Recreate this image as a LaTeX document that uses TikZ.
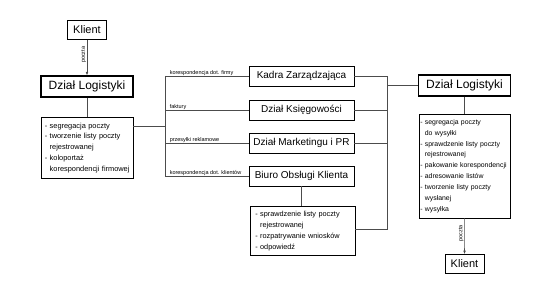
\documentclass[tikz,border=0pt]{standalone}
\usepackage{fontspec}
\setmainfont{Liberation Sans}
\usetikzlibrary{arrows.meta,positioning}

\begin{document}
\begin{tikzpicture}[x=1pt,y=-1pt,every node/.style={font=\fontsize{10}{12}\selectfont},
  dept/.style={draw,line width=.6pt,minimum width=105pt,minimum height=20pt,inner sep=0pt},
  dzial/.style={draw,line width=1.1pt,minimum width=92pt,minimum height=21pt,inner sep=0pt,font=\fontsize{12}{14}\selectfont},
  klient/.style={draw,line width=.6pt,minimum width=39pt,minimum height=19pt,inner sep=0pt,font=\fontsize{11}{13}\selectfont},
  lista/.style={draw,line width=.6pt,anchor=north west,align=left,font=\fontsize{7.4}{10.8}\selectfont},
  opis/.style={anchor=south west,inner sep=.5pt,font=\fontsize{5.5}{6}\selectfont},
  pion/.style={rotate=90,anchor=south,inner sep=.8pt,font=\fontsize{5.5}{6}\selectfont},
  link/.style={line width=.6pt,draw=black!70},
  strz/.style={link,-{Latex[length=3.5pt,width=2.6pt]}}]
\useasboundingbox (0,0) rectangle (550,294);
\node[klient] (klientA) at (87,30) {Klient};
\node[dzial] (logA) at (87,86.5) {Dział Logistyki};
\node[lista,inner xsep=3.5pt,inner ysep=5.5pt,text width=85pt] (listA) at (41,117)
  {- segregacja poczty\\- tworzenie listy poczty\\\hphantom{- }rejestrowanej\\- koloportaż\\\hphantom{- }korespondencji firmowej};
\node[dept] (kadra) at (301.5,76) {Kadra Zarządzająca};
\node[dept] (ksieg) at (301.5,110) {Dział Księgowości};
\node[dept] (market) at (301.5,143) {Dział Marketingu i PR};
\node[dept] (biuro) at (301.5,176) {Biuro Obsługi Klienta};
\node[lista,inner xsep=5pt,inner ysep=4.8pt,text width=95pt,font=\fontsize{7.3}{11}\selectfont] (listC) at (250,206)
  {- sprawdzenie listy poczty\\\hphantom{- }rejestrowanej\\- rozpatrywanie wniosków\\- odpowiedź};
\node[dzial] (logB) at (464.5,85.5) {Dział Logistyki};
\node[lista,inner xsep=1pt,inner ysep=5pt,text width=89pt,font=\fontsize{6.9}{10.9}\selectfont] (listB) at (419,114)
  {- segregacja poczty\\\hphantom{- }do wysyłki\\- sprawdzenie listy poczty\\\hphantom{- }rejestrowanej\\- pakowanie korespondencji\\- adresowanie listów\\- tworzenie listy poczty\\\hphantom{- }wysłanej\\- wysyłka};
\node[klient] (klientB) at (464.5,264) {Klient};
\coordinate (busL) at (165,76);
\coordinate (busR) at (387,76);
\coordinate (wyjA) at (133,126);
\coordinate (wyjC) at (355,229);
\draw[strz] (klientA) -- node[pion,pos=.42]{poczta} (logA);
\draw[link] (logA) -- (listA.north -| logA);
\draw[link] (wyjA) -- (wyjA -| busL);
\draw[link] (busL |- kadra) -- (busL |- biuro);
\draw[link] (busL |- kadra) -- (kadra.west) node[opis,pos=0,xshift=4pt]{korespondencja dot. firmy};
\draw[link] (busL |- ksieg) -- (ksieg.west) node[opis,pos=0,xshift=4pt]{faktury};
\draw[link] (busL |- market) -- (market.west) node[opis,pos=0,xshift=4pt]{przesyłki reklamowe};
\draw[link] (busL |- biuro) -- (biuro.west) node[opis,pos=0,xshift=4pt]{korespondencja dot. klientów};
\foreach \n in {kadra,ksieg,market} \draw[link] (\n.east) -- (\n.east -| busR);
\draw[link] (biuro) -- (biuro |- listC.north);
\draw[link] (wyjC) -| (busR |- kadra);
\draw[link] (busR |- logB) -- (logB.west);
\draw[link] (logB) -- (logB |- listB.north);
\draw[strz] (listB) -- node[pion,pos=.42]{poczta} (klientB);
\end{tikzpicture}
\end{document}
